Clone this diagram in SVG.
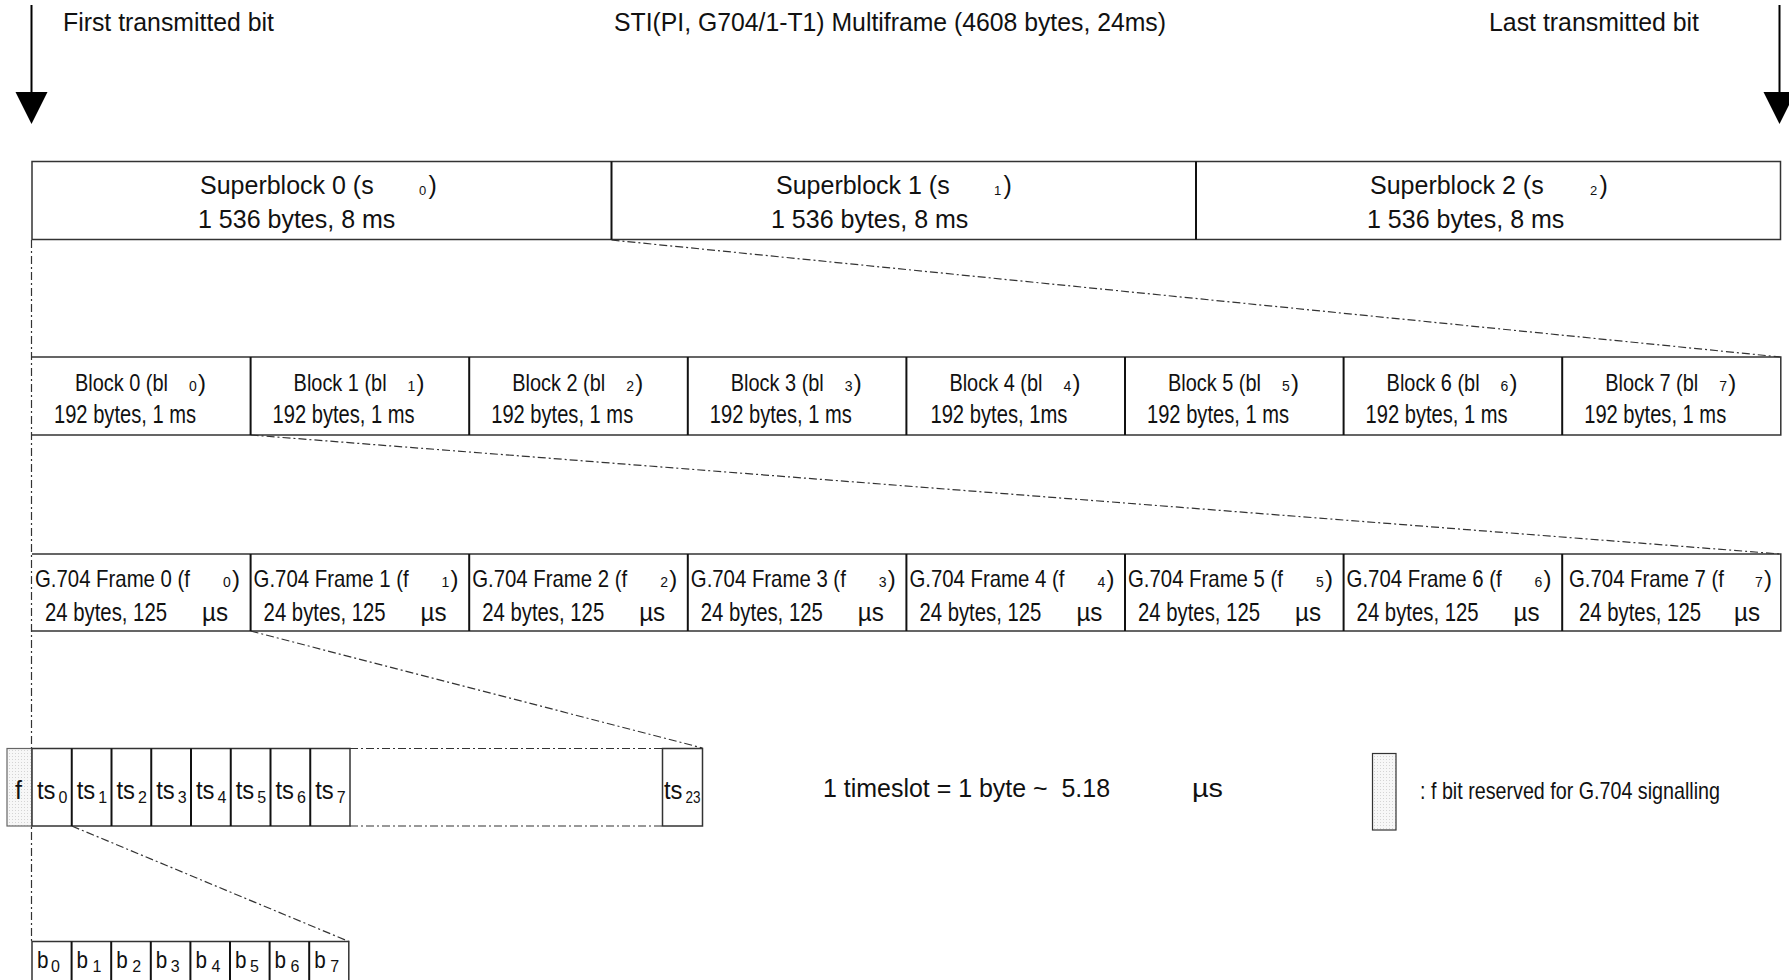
<svg xmlns="http://www.w3.org/2000/svg" width="1789" height="980" viewBox="0 0 1789 980">
<defs>
<style>
text{font-family:"Liberation Sans",Arial,sans-serif;fill:#111}
.b25{font-size:25px}
.n{font-size:24px}
.n2{font-size:25px}
.sub{font-size:14px}
.ssub{font-size:13px}
.ts{font-size:25px}
.bb{font-size:24px}
.tsub{font-size:16px}
.box{fill:#fff;stroke:#333;stroke-width:1.5}
.edge{fill:none;stroke:#333;stroke-width:1.5}
.dv{stroke:#111;stroke-width:2}
.conn{fill:none;stroke:#333;stroke-width:1.2;stroke-dasharray:8 3 2 3}
.arr{stroke:#000;stroke-width:2}
</style>
<pattern id="dots" width="3" height="3" patternUnits="userSpaceOnUse">
<rect width="3" height="3" fill="#f7f7f7"/>
<rect width="1" height="1" fill="#d4d4d4"/>
</pattern>
</defs>
<rect width="1789" height="980" fill="#fff"/>

<g id="header">
<line class="arr" x1="31.5" y1="5" x2="31.5" y2="93"/>
<polygon points="15.5,92 47.5,92 31.5,124" fill="#000"/>
<line class="arr" x1="1779.5" y1="5" x2="1779.5" y2="93"/>
<polygon points="1763.5,92 1795.5,92 1779.5,124" fill="#000"/>
<text class="b25" x="63" y="31" textLength="211" lengthAdjust="spacingAndGlyphs">First transmitted bit</text>
<text class="b25" x="614" y="31" textLength="552" lengthAdjust="spacingAndGlyphs">STI(PI, G704/1-T1) Multiframe (4608 bytes, 24ms)</text>
<text class="b25" x="1489" y="31" textLength="210" lengthAdjust="spacingAndGlyphs">Last transmitted bit</text>
</g>

<g id="connectors">
<line class="conn" x1="31.5" y1="240" x2="31.5" y2="941"/>
<line class="conn" x1="611.5" y1="240" x2="1780.5" y2="357"/>
<line class="conn" x1="250.6" y1="435" x2="1780.5" y2="554"/>
<line class="conn" x1="250.6" y1="631" x2="702.5" y2="748"/>
<line class="conn" x1="71.75" y1="826" x2="349" y2="941.5"/>
</g>

<g id="superblocks">
<rect class="box" x="32" y="161.5" width="1748.5" height="78"/>
<line class="dv" x1="611.5" y1="161.5" x2="611.5" y2="239.5"/>
<line class="dv" x1="1196" y1="161.5" x2="1196" y2="239.5"/>
<g id="s0">
<text class="b25" y="194"><tspan x="200">Superblock 0 (s</tspan><tspan class="ssub" x="419" y="195">0</tspan><tspan x="428.5" y="194">)</tspan></text>
<text class="b25" x="198" y="228">1 536 bytes, 8 ms</text>
</g>
<g id="s1">
<text class="b25" y="194"><tspan x="776">Superblock 1 (s</tspan><tspan class="ssub" x="994" y="195">1</tspan><tspan x="1003.5" y="194">)</tspan></text>
<text class="b25" x="771" y="228">1 536 bytes, 8 ms</text>
</g>
<g id="s2">
<text class="b25" y="194"><tspan x="1370">Superblock 2 (s</tspan><tspan class="ssub" x="1590" y="195">2</tspan><tspan x="1599.5" y="194">)</tspan></text>
<text class="b25" x="1367" y="228">1 536 bytes, 8 ms</text>
</g>
</g>

<g id="blocks">
<path class="edge" d="M32,357 H1780.8 V435 H32"/>
<line class="dv" x1="250.6" y1="357" x2="250.6" y2="435"/>
<line class="dv" x1="469.2" y1="357" x2="469.2" y2="435"/>
<line class="dv" x1="687.8" y1="357" x2="687.8" y2="435"/>
<line class="dv" x1="906.4" y1="357" x2="906.4" y2="435"/>
<line class="dv" x1="1125" y1="357" x2="1125" y2="435"/>
<line class="dv" x1="1343.6" y1="357" x2="1343.6" y2="435"/>
<line class="dv" x1="1562.2" y1="357" x2="1562.2" y2="435"/>
<g id="bl0"><text class="n" y="391"><tspan x="75" textLength="93" lengthAdjust="spacingAndGlyphs">Block 0 (bl</tspan><tspan class="sub" x="189">0</tspan><tspan x="198">)</tspan></text><text class="n2" x="54" y="423" textLength="142" lengthAdjust="spacingAndGlyphs">192 bytes, 1 ms</text></g>
<g id="bl1"><text class="n" y="391"><tspan x="293.6" textLength="93" lengthAdjust="spacingAndGlyphs">Block 1 (bl</tspan><tspan class="sub" x="407.6">1</tspan><tspan x="416.6">)</tspan></text><text class="n2" x="272.6" y="423" textLength="142" lengthAdjust="spacingAndGlyphs">192 bytes, 1 ms</text></g>
<g id="bl2"><text class="n" y="391"><tspan x="512.2" textLength="93" lengthAdjust="spacingAndGlyphs">Block 2 (bl</tspan><tspan class="sub" x="626.2">2</tspan><tspan x="635.2">)</tspan></text><text class="n2" x="491.2" y="423" textLength="142" lengthAdjust="spacingAndGlyphs">192 bytes, 1 ms</text></g>
<g id="bl3"><text class="n" y="391"><tspan x="730.8" textLength="93" lengthAdjust="spacingAndGlyphs">Block 3 (bl</tspan><tspan class="sub" x="844.8">3</tspan><tspan x="853.8">)</tspan></text><text class="n2" x="709.8" y="423" textLength="142" lengthAdjust="spacingAndGlyphs">192 bytes, 1 ms</text></g>
<g id="bl4"><text class="n" y="391"><tspan x="949.4" textLength="93" lengthAdjust="spacingAndGlyphs">Block 4 (bl</tspan><tspan class="sub" x="1063.4">4</tspan><tspan x="1072.4">)</tspan></text><text class="n2" x="930.4" y="423" textLength="137" lengthAdjust="spacingAndGlyphs">192 bytes, 1ms</text></g>
<g id="bl5"><text class="n" y="391"><tspan x="1168" textLength="93" lengthAdjust="spacingAndGlyphs">Block 5 (bl</tspan><tspan class="sub" x="1282">5</tspan><tspan x="1291">)</tspan></text><text class="n2" x="1147" y="423" textLength="142" lengthAdjust="spacingAndGlyphs">192 bytes, 1 ms</text></g>
<g id="bl6"><text class="n" y="391"><tspan x="1386.6" textLength="93" lengthAdjust="spacingAndGlyphs">Block 6 (bl</tspan><tspan class="sub" x="1500.6">6</tspan><tspan x="1509.6">)</tspan></text><text class="n2" x="1365.6" y="423" textLength="142" lengthAdjust="spacingAndGlyphs">192 bytes, 1 ms</text></g>
<g id="bl7"><text class="n" y="391"><tspan x="1605.2" textLength="93" lengthAdjust="spacingAndGlyphs">Block 7 (bl</tspan><tspan class="sub" x="1719.2">7</tspan><tspan x="1728.2">)</tspan></text><text class="n2" x="1584.2" y="423" textLength="142" lengthAdjust="spacingAndGlyphs">192 bytes, 1 ms</text></g>
</g>

<g id="frames">
<path class="edge" d="M32,554 H1780.8 V631 H32"/>
<line class="dv" x1="250.6" y1="554" x2="250.6" y2="631"/>
<line class="dv" x1="469.2" y1="554" x2="469.2" y2="631"/>
<line class="dv" x1="687.8" y1="554" x2="687.8" y2="631"/>
<line class="dv" x1="906.4" y1="554" x2="906.4" y2="631"/>
<line class="dv" x1="1125" y1="554" x2="1125" y2="631"/>
<line class="dv" x1="1343.6" y1="554" x2="1343.6" y2="631"/>
<line class="dv" x1="1562.2" y1="554" x2="1562.2" y2="631"/>
<g id="f0"><text class="n" y="587"><tspan x="35" textLength="155" lengthAdjust="spacingAndGlyphs">G.704 Frame 0 (f</tspan><tspan class="sub" x="223">0</tspan><tspan x="232">)</tspan></text><text class="n2" y="621"><tspan x="45" textLength="122" lengthAdjust="spacingAndGlyphs">24 bytes, 125</tspan><tspan x="202" textLength="26" lengthAdjust="spacingAndGlyphs">µs</tspan></text></g>
<g id="f1"><text class="n" y="587"><tspan x="253.6" textLength="155" lengthAdjust="spacingAndGlyphs">G.704 Frame 1 (f</tspan><tspan class="sub" x="441.6">1</tspan><tspan x="450.6">)</tspan></text><text class="n2" y="621"><tspan x="263.6" textLength="122" lengthAdjust="spacingAndGlyphs">24 bytes, 125</tspan><tspan x="420.6" textLength="26" lengthAdjust="spacingAndGlyphs">µs</tspan></text></g>
<g id="f2"><text class="n" y="587"><tspan x="472.2" textLength="155" lengthAdjust="spacingAndGlyphs">G.704 Frame 2 (f</tspan><tspan class="sub" x="660.2">2</tspan><tspan x="669.2">)</tspan></text><text class="n2" y="621"><tspan x="482.2" textLength="122" lengthAdjust="spacingAndGlyphs">24 bytes, 125</tspan><tspan x="639.2" textLength="26" lengthAdjust="spacingAndGlyphs">µs</tspan></text></g>
<g id="f3"><text class="n" y="587"><tspan x="690.8" textLength="155" lengthAdjust="spacingAndGlyphs">G.704 Frame 3 (f</tspan><tspan class="sub" x="878.8">3</tspan><tspan x="887.8">)</tspan></text><text class="n2" y="621"><tspan x="700.8" textLength="122" lengthAdjust="spacingAndGlyphs">24 bytes, 125</tspan><tspan x="857.8" textLength="26" lengthAdjust="spacingAndGlyphs">µs</tspan></text></g>
<g id="f4"><text class="n" y="587"><tspan x="909.4" textLength="155" lengthAdjust="spacingAndGlyphs">G.704 Frame 4 (f</tspan><tspan class="sub" x="1097.4">4</tspan><tspan x="1106.4">)</tspan></text><text class="n2" y="621"><tspan x="919.4" textLength="122" lengthAdjust="spacingAndGlyphs">24 bytes, 125</tspan><tspan x="1076.4" textLength="26" lengthAdjust="spacingAndGlyphs">µs</tspan></text></g>
<g id="f5"><text class="n" y="587"><tspan x="1128" textLength="155" lengthAdjust="spacingAndGlyphs">G.704 Frame 5 (f</tspan><tspan class="sub" x="1316">5</tspan><tspan x="1325">)</tspan></text><text class="n2" y="621"><tspan x="1138" textLength="122" lengthAdjust="spacingAndGlyphs">24 bytes, 125</tspan><tspan x="1295" textLength="26" lengthAdjust="spacingAndGlyphs">µs</tspan></text></g>
<g id="f6"><text class="n" y="587"><tspan x="1346.6" textLength="155" lengthAdjust="spacingAndGlyphs">G.704 Frame 6 (f</tspan><tspan class="sub" x="1534.6">6</tspan><tspan x="1543.6">)</tspan></text><text class="n2" y="621"><tspan x="1356.6" textLength="122" lengthAdjust="spacingAndGlyphs">24 bytes, 125</tspan><tspan x="1513.6" textLength="26" lengthAdjust="spacingAndGlyphs">µs</tspan></text></g>
<g id="f7"><text class="n" y="587"><tspan x="1569" textLength="155" lengthAdjust="spacingAndGlyphs">G.704 Frame 7 (f</tspan><tspan class="sub" x="1755">7</tspan><tspan x="1764">)</tspan></text><text class="n2" y="621"><tspan x="1579" textLength="122" lengthAdjust="spacingAndGlyphs">24 bytes, 125</tspan><tspan x="1734" textLength="26" lengthAdjust="spacingAndGlyphs">µs</tspan></text></g>
</g>

<g id="timeslots">
<rect x="7" y="748.5" width="25" height="77.5" fill="url(#dots)" stroke="#666" stroke-width="1.2"/>
<text class="ts" x="15" y="799" textLength="7" lengthAdjust="spacingAndGlyphs">f</text>
<rect class="box" x="32" y="748.5" width="318" height="77.5"/>
<line class="dv" x1="71.75" y1="748.5" x2="71.75" y2="826"/>
<line class="dv" x1="111.5" y1="748.5" x2="111.5" y2="826"/>
<line class="dv" x1="151.25" y1="748.5" x2="151.25" y2="826"/>
<line class="dv" x1="191" y1="748.5" x2="191" y2="826"/>
<line class="dv" x1="230.75" y1="748.5" x2="230.75" y2="826"/>
<line class="dv" x1="270.5" y1="748.5" x2="270.5" y2="826"/>
<line class="dv" x1="310.25" y1="748.5" x2="310.25" y2="826"/>
<line class="conn" x1="350" y1="748.5" x2="662.5" y2="748.5"/>
<line class="conn" x1="350" y1="826" x2="662.5" y2="826"/>
<rect class="box" x="662.5" y="748.5" width="40" height="77.5"/>
<g id="ts0"><text class="ts" y="799"><tspan x="37" textLength="18.5" lengthAdjust="spacingAndGlyphs">ts</tspan><tspan class="tsub" x="58.5" y="803">0</tspan></text></g>
<g id="ts1"><text class="ts" y="799"><tspan x="76.75" textLength="18.5" lengthAdjust="spacingAndGlyphs">ts</tspan><tspan class="tsub" x="98.25" y="803">1</tspan></text></g>
<g id="ts2"><text class="ts" y="799"><tspan x="116.5" textLength="18.5" lengthAdjust="spacingAndGlyphs">ts</tspan><tspan class="tsub" x="138" y="803">2</tspan></text></g>
<g id="ts3"><text class="ts" y="799"><tspan x="156.25" textLength="18.5" lengthAdjust="spacingAndGlyphs">ts</tspan><tspan class="tsub" x="177.75" y="803">3</tspan></text></g>
<g id="ts4"><text class="ts" y="799"><tspan x="196" textLength="18.5" lengthAdjust="spacingAndGlyphs">ts</tspan><tspan class="tsub" x="217.5" y="803">4</tspan></text></g>
<g id="ts5"><text class="ts" y="799"><tspan x="235.75" textLength="18.5" lengthAdjust="spacingAndGlyphs">ts</tspan><tspan class="tsub" x="257.25" y="803">5</tspan></text></g>
<g id="ts6"><text class="ts" y="799"><tspan x="275.5" textLength="18.5" lengthAdjust="spacingAndGlyphs">ts</tspan><tspan class="tsub" x="297" y="803">6</tspan></text></g>
<g id="ts7"><text class="ts" y="799"><tspan x="315.25" textLength="18.5" lengthAdjust="spacingAndGlyphs">ts</tspan><tspan class="tsub" x="336.75" y="803">7</tspan></text></g>
<g id="ts23"><text class="ts" y="799"><tspan x="664" textLength="18.5" lengthAdjust="spacingAndGlyphs">ts</tspan><tspan class="tsub" x="685.5" y="803" textLength="15" lengthAdjust="spacingAndGlyphs">23</tspan></text></g>
</g>

<g id="bits">
<rect class="box" x="32" y="941.5" width="316.8" height="60"/>
<line class="dv" x1="71.6" y1="941.5" x2="71.6" y2="990"/>
<line class="dv" x1="111.2" y1="941.5" x2="111.2" y2="990"/>
<line class="dv" x1="150.8" y1="941.5" x2="150.8" y2="990"/>
<line class="dv" x1="190.4" y1="941.5" x2="190.4" y2="990"/>
<line class="dv" x1="230" y1="941.5" x2="230" y2="990"/>
<line class="dv" x1="269.6" y1="941.5" x2="269.6" y2="990"/>
<line class="dv" x1="309.2" y1="941.5" x2="309.2" y2="990"/>
<g id="b0"><text class="bb" y="968"><tspan x="37" textLength="11.5" lengthAdjust="spacingAndGlyphs">b</tspan><tspan class="tsub" x="51" y="972">0</tspan></text></g>
<g id="b1"><text class="bb" y="968"><tspan x="76.6" textLength="11.5" lengthAdjust="spacingAndGlyphs">b</tspan><tspan class="tsub" x="92.6" y="972">1</tspan></text></g>
<g id="b2"><text class="bb" y="968"><tspan x="116.2" textLength="11.5" lengthAdjust="spacingAndGlyphs">b</tspan><tspan class="tsub" x="132.2" y="972">2</tspan></text></g>
<g id="b3"><text class="bb" y="968"><tspan x="155.8" textLength="11.5" lengthAdjust="spacingAndGlyphs">b</tspan><tspan class="tsub" x="170.8" y="972">3</tspan></text></g>
<g id="b4"><text class="bb" y="968"><tspan x="195.4" textLength="11.5" lengthAdjust="spacingAndGlyphs">b</tspan><tspan class="tsub" x="211.4" y="972">4</tspan></text></g>
<g id="b5"><text class="bb" y="968"><tspan x="235" textLength="11.5" lengthAdjust="spacingAndGlyphs">b</tspan><tspan class="tsub" x="250" y="972">5</tspan></text></g>
<g id="b6"><text class="bb" y="968"><tspan x="274.6" textLength="11.5" lengthAdjust="spacingAndGlyphs">b</tspan><tspan class="tsub" x="290.6" y="972">6</tspan></text></g>
<g id="b7"><text class="bb" y="968"><tspan x="314.2" textLength="11.5" lengthAdjust="spacingAndGlyphs">b</tspan><tspan class="tsub" x="330.2" y="972">7</tspan></text></g>
</g>

<g id="legend">
<text class="b25" x="823" y="797" textLength="287" lengthAdjust="spacingAndGlyphs" style="white-space:pre">1 timeslot = 1 byte ~  5.18</text>
<text class="b25" x="1192" y="797" textLength="31" lengthAdjust="spacingAndGlyphs">µs</text>
<rect x="1372.5" y="753.5" width="23.5" height="76.5" fill="url(#dots)" stroke="#333" stroke-width="1.2"/>
<text x="1420" y="799" style="font-size:24px" textLength="300" lengthAdjust="spacingAndGlyphs">: f bit reserved for G.704 signalling</text>
</g>
</svg>
